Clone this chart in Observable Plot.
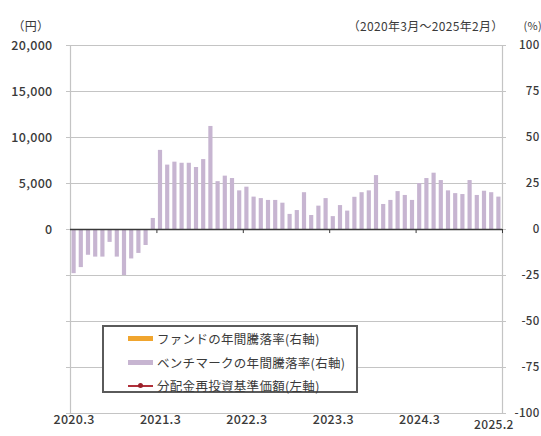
<!DOCTYPE html>
<html>
<head>
<meta charset="utf-8">
<script src="https://cdn.jsdelivr.net/npm/d3@7"></script>
<script src="https://cdn.jsdelivr.net/npm/@observablehq/plot@0.6"></script>
<style>
  html, body { margin: 0; padding: 0; background: #fff; }
  #wrap { position: relative; width: 541px; height: 436px; font-family: "Noto Sans CJK JP", sans-serif; }
  #legend { position: absolute; left: 102px; top: 325px; width: 256px; height: 68px; box-sizing: border-box;
            border: 2px solid #5a5a5a; background: #fff; }
  .row { height: 23.5px; display: flex; align-items: center; padding-left: 24px; font-size: 12.5px; letter-spacing: 0.3px; color: #3a3a3a; white-space: nowrap; }
  .sw { width: 25px; height: 5px; margin-right: 4px; position: relative; flex: none; }
  .ln { width: 25px; height: 2px; margin-right: 4px; position: relative; flex: none; background: #b0303a; }
  .ln::after { content: ""; position: absolute; left: 10px; top: -2px; width: 5px; height: 5px; border-radius: 50%; background: #9a1f2a; }
</style>
</head>
<body>
<div id="wrap"></div>
<script>
// Benchmark annual return (%), monthly 2020.3 - 2025.2 (right axis)
const benchmark = [
  -24, -20.7, -14, -15, -15, -7, -15, -25, -16, -13, -8.7, 6,
  43, 35, 36.6, 36, 36, 33.7, 38, 56, 26, 29, 27.7, 21,
  23, 17.6, 16.8, 15.8, 15.8, 14.3, 8.2, 10.3, 20, 7.6, 12.7, 16.8,
  7, 13, 10, 17.5, 20, 21, 29.3, 13.6, 15.8, 20.6, 18.5, 15.8,
  25, 27.7, 30.6, 26.6, 21, 19.5, 19, 26.6, 18.5, 20.8, 20, 17.6
];
const startYear = 2020, startMonth = 3;
const months = benchmark.map((_, i) => {
  const m = startMonth - 1 + i;
  return `${startYear + Math.floor(m / 12)}.${(m % 12) + 1}`;
});
const xTickIdx = [0, 12, 24, 36, 48];
const xLastIdx = [59];
const yenTicks = [0, 5000, 10000, 15000, 20000];
const pctTicks = [100, 75, 50, 25, 0, -25, -50, -75, -100];
const yearBoundaries = [11.5, 23.5, 35.5, 47.5, 59.5];
const yenPerPct = 200; // 20,000 yen ↔ 100 %

const data = benchmark.map((v, i) => ({i, month: months[i], v}));

const chart = Plot.plot({
  width: 541,
  height: 436,
  marginLeft: 70,
  marginRight: 39,
  marginTop: 45,
  marginBottom: 23,
  style: {fontFamily: "'Noto Sans CJK JP', sans-serif", fontSize: "12.5px", color: "#3a3a3a", background: "#fff", letterSpacing: "0.3px"},
  x: {type: "linear", domain: [-0.5, 59.5], axis: null},
  y: {domain: [-100, 100], axis: null},
  marks: [
    Plot.ruleY(pctTicks, {stroke: "#c4c4c4", strokeWidth: 1.2, insetLeft: -4, insetRight: -4}),
    Plot.ruleX([-0.5, 59.5], {stroke: "#c4c4c4", strokeWidth: 1.2}),
    Plot.rectY(data, {x1: d => d.i - 0.29, x2: d => d.i + 0.29, y: "v", fill: "#c7b5d1"}),
    Plot.ruleY([0], {stroke: "#3a3a3a", strokeWidth: 1.5}),
    Plot.ruleX(yearBoundaries, {x: d => d, y1: 0, y2: -2.2, stroke: "#3a3a3a", strokeWidth: 1}),
    Plot.text(yenTicks, {y: d => d / yenPerPct, text: d => d.toLocaleString("en-US"), frameAnchor: "left", dx: -18, textAnchor: "end", fontWeight: 500}),
    Plot.text(pctTicks, {y: d => d, text: d => String(d), frameAnchor: "right", dx: 37, textAnchor: "end", fontWeight: 500, fontSize: 11.5}),
    Plot.text(xTickIdx, {x: d => d, text: d => months[d], frameAnchor: "bottom", dy: 10, fontWeight: 500}),
    Plot.text(xLastIdx, {x: d => d, text: d => months[d], frameAnchor: "bottom", dy: 15, dx: -5, fontWeight: 500, fontSize: 12}),
    Plot.text(["（円）"], {frameAnchor: "top-left", dx: -58, dy: -23, textAnchor: "start", fontSize: 12}),
    Plot.text(["（2020年3月～2025年2月）"], {frameAnchor: "top-right", dx: 1, dy: -23, textAnchor: "end", fontSize: 12, letterSpacing: "0.8px"}),
    Plot.text(["(%)"], {frameAnchor: "top-right", dx: 21, dy: -23, textAnchor: "start", fontSize: 11})
  ]
});

const wrap = document.getElementById("wrap");
wrap.appendChild(chart);

const legendItems = [
  {label: "ファンドの年間騰落率(右軸)", type: "sw", color: "#f0a52e"},
  {label: "ベンチマークの年間騰落率(右軸)", type: "sw", color: "#c7b5d1"},
  {label: "分配金再投資基準価額(左軸)", type: "ln", color: "#b0303a"}
];
const legend = document.createElement("div");
legend.id = "legend";
for (const it of legendItems) {
  const row = document.createElement("div");
  row.className = "row";
  const s = document.createElement("span");
  s.className = it.type;
  if (it.type === "sw") s.style.background = it.color;
  row.appendChild(s);
  const t = document.createElement("span");
  t.textContent = it.label;
  row.appendChild(t);
  legend.appendChild(row);
}
wrap.appendChild(legend);
</script>
</body>
</html>
